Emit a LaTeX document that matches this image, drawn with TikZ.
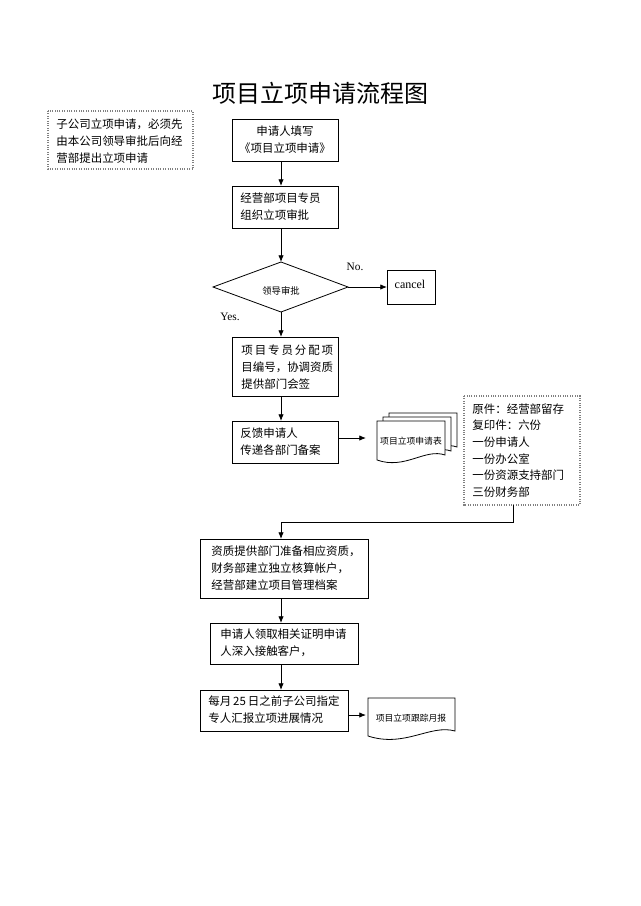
\documentclass[tikz,border=0pt]{standalone}
\usepackage{fontspec}
\setmainfont{Liberation Serif}
\newfontfamily\cjk{Noto Sans CJK SC}
\usetikzlibrary{arrows.meta,shapes.geometric}
\begin{document}
\begin{tikzpicture}[x=0.75pt,y=-0.75pt,semithick,
  txt/.style={font=\cjk\fontsize{8.6}{12.8}\selectfont,align=left,inner sep=0pt},
  note/.style={draw=gray,densely dotted,thick},
  arr/.style={-{Latex[length=5pt,width=4pt]}}]
\useasboundingbox[fill=white] (0,0) rectangle (640,906);
\node[font=\cjk\fontsize{18}{22}\selectfont] (title) at (320,93) {项目立项申请流程图};
% note 1
\draw[note] (48,111) rectangle (193,169);
\node[txt,anchor=north west] (n1) at (56,118) {子公司立项申请，必须先\\由本公司领导审批后向经\\营部提出立项申请};
% boxes
\draw (232,119) rectangle (338,161);
\node[txt,align=center] (b1) at (285,140) {申请人填写\\《项目立项申请》};
\coordinate (b1b) at (281,161);
\draw (232,186) rectangle (338,228);
\node[txt,anchor=west] (b2) at (240,207) {经营部项目专员\\组织立项审批};
\coordinate (b2t) at (281,186); \coordinate (b2b) at (281,228);
\draw (213,287) -- (281,262) -- (348,287) -- (281,312) -- cycle;
\node[font=\cjk\fontsize{7}{9}\selectfont] (d) at (281,291) {领导审批};
\coordinate (dt) at (281,262); \coordinate (db) at (281,312); \coordinate (dr) at (348,287);
\node[font=\fontsize{8.5}{10}\selectfont] (no) at (355,267) {No.};
\node[font=\fontsize{8.5}{10}\selectfont] (yes) at (230,317) {Yes.};
\draw (387,270) rectangle (435,304);
\node[font=\fontsize{9}{10}\selectfont] (cancel) at (410,284) {cancel};
\coordinate (cl) at (387,287);
\draw (232,337) rectangle (338,396);
\node[txt,anchor=west] (b3) at (241,367) {项\,目\,专\,员\,分\,配\,项\\目编号，协调资质\\提供部门会签};
\coordinate (b3t) at (281,337); \coordinate (b3b) at (281,396);
\draw (232,421) rectangle (338,463);
\node[txt,anchor=west] (b4) at (240,442) {反馈申请人\\传递各部门备案};
\coordinate (b4t) at (281,421); \coordinate (b4r) at (338,438);
% doc stack
\foreach \dx/\dy in {12/-8,6/-4,0/0}{
 \draw[fill=white] (377+\dx,421+\dy) -- (445+\dx,421+\dy) -- (445+\dx,455+\dy)
   .. controls (425+\dx,448+\dy) and (405+\dx,470+\dy) .. (377+\dx,460+\dy) -- cycle;}
\node[font=\cjk\fontsize{6.6}{9}\selectfont] (doc1) at (411,441) {项目立项申请表};
\coordinate (doc1l) at (366,438);
% note 2
\draw[note] (464,396) rectangle (580,505);
\node[txt,anchor=north west,font=\cjk\fontsize{8.6}{12.5}\selectfont] (n2) at (472,403) {原件：经营部留存\\复印件：六份\\一份申请人\\一份办公室\\一份资源支持部门\\三份财务部};
\coordinate (n2b) at (513,505);
\draw (200,539) rectangle (368,598);
\node[txt,anchor=west] (b5) at (211,568) {资质提供部门准备相应资质，\\财务部建立独立核算帐户，\\经营部建立项目管理档案};
\coordinate (b5t) at (281,539); \coordinate (b5b) at (281,598);
\draw (210,623) rectangle (358,664);
\node[txt,anchor=west] (b6) at (220,643) {申请人领取相关证明申请\\人深入接触客户，};
\coordinate (b6t) at (281,623); \coordinate (b6b) at (281,664);
\draw (200,690) rectangle (348,731);
\node[txt,anchor=west] (b7) at (208,710) {每月\,25\,日之前子公司指定\\专人汇报立项进展情况};
\coordinate (b7t) at (281,690); \coordinate (b7r) at (348,715);
\draw (368,698) -- (455,698) -- (455,731)
   .. controls (430,724) and (405,748) .. (368,736) -- cycle;
\node[font=\cjk\fontsize{6.6}{9}\selectfont] (doc2) at (411,718) {项目立项跟踪月报};
\coordinate (doc2l) at (366,715);
% arrows
\draw[arr] (b1b) -- (b2t);
\draw[arr] (b2b) -- (dt);
\draw[arr] (dr) -- (cl);
\draw[arr] (db) -- (b3t);
\draw[arr] (b3b) -- (b4t);
\draw[arr] (b4r) -- (doc1l);
\draw[arr] (n2b) -- (513,522) -- (281,522) -- (b5t);
\draw[arr] (b5b) -- (b6t);
\draw[arr] (b6b) -- (b7t);
\draw[arr] (b7r) -- (doc2l);
\end{tikzpicture}
\end{document}
